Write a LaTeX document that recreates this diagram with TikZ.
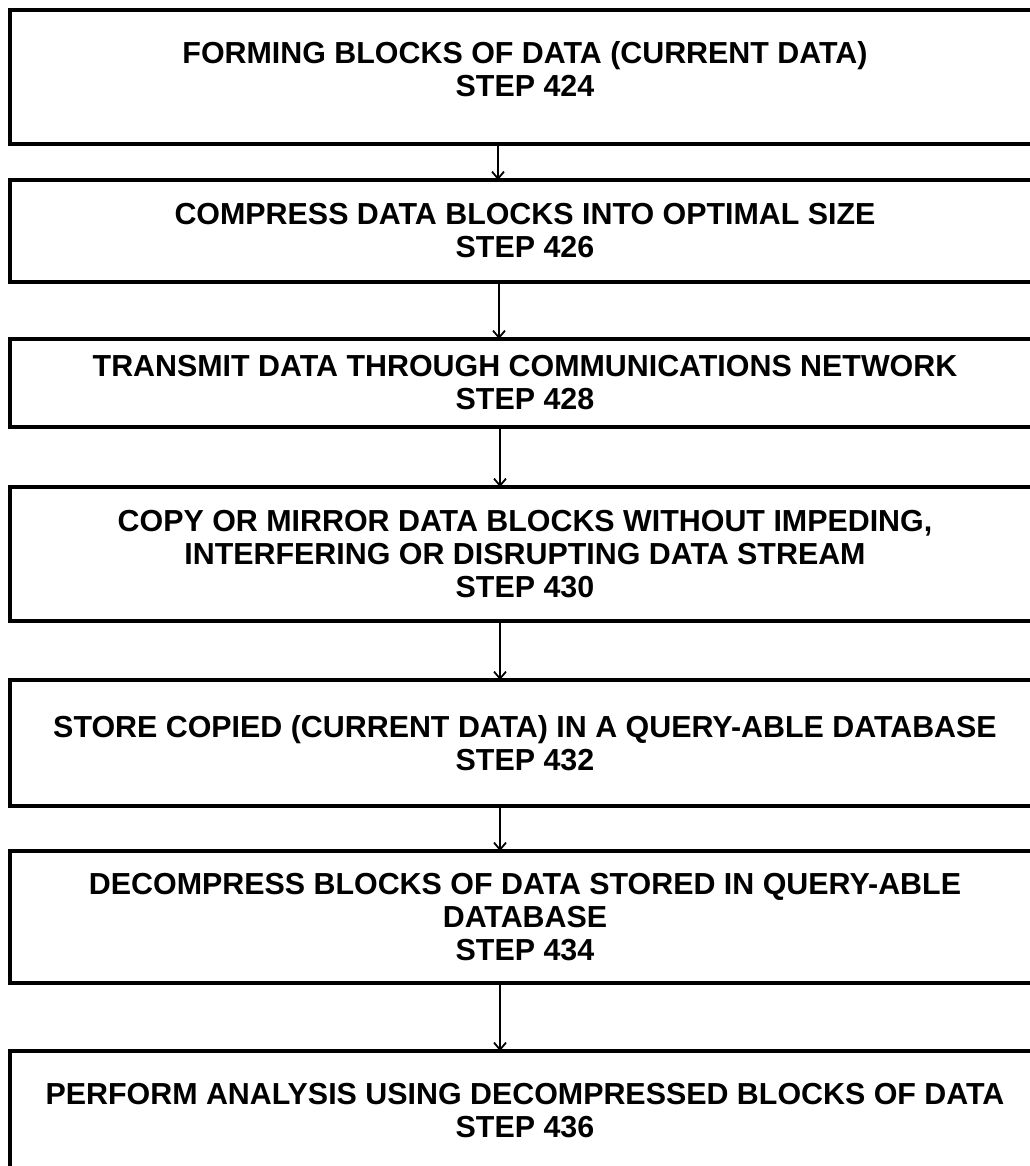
\documentclass[tikz,border=0pt]{standalone}
\usepackage{fontspec}
\setmainfont{Liberation Sans}
\usetikzlibrary{positioning,arrows.meta}

\begin{document}
\begin{tikzpicture}
[x=1pt, y=1pt, node distance = 57 pt,
stepbox/.style={draw, line width=3.5pt, outer sep=0pt, minimum width=1030pt, align=center, font=\fontsize{30.4}{33}\selectfont\bfseries},
flow/.style={line width=1.8pt, -{Straight Barb[length=7pt,width=12pt,line width=1.8pt]}}]
%[level distance=20pt]
\useasboundingbox (0,0) rectangle (1029,-1166);

\node (s424)[stepbox, minimum height=134pt, text depth=16pt] at (525,-77) {FORMING BLOCKS OF DATA (CURRENT DATA)\\STEP 424};
\node (s426)[stepbox, minimum height=102pt, below=36pt of s424] {COMPRESS DATA BLOCKS INTO OPTIMAL SIZE\\STEP 426};
\node (s428)[stepbox, minimum height=88pt, below=of s426] {TRANSMIT DATA THROUGH COMMUNICATIONS NETWORK\\STEP 428};
\node (s430)[stepbox, minimum height=134pt, below=60pt of s428] {COPY OR MIRROR DATA BLOCKS WITHOUT IMPEDING,\\INTERFERING OR DISRUPTING DATA STREAM\\STEP 430};
\node (s432)[stepbox, minimum height=126pt, below=59pt of s430] {STORE COPIED (CURRENT DATA) IN A QUERY-ABLE DATABASE\\STEP 432};
\node (s434)[stepbox, minimum height=132pt, below=45pt of s432] {DECOMPRESS BLOCKS OF DATA STORED IN QUERY-ABLE\\DATABASE\\STEP 434};
\node (s436)[stepbox, minimum height=120pt, below=68pt of s434] {PERFORM ANALYSIS USING DECOMPRESSED BLOCKS OF DATA\\STEP 436};

\draw[flow] ([xshift=-27pt]s424.south) -- ([xshift=-27pt]s426.north);
\draw[flow] ([xshift=-26pt]s426.south) -- ([xshift=-26pt]s428.north);
\draw[flow] ([xshift=-25pt]s428.south) -- ([xshift=-25pt]s430.north);
\draw[flow] ([xshift=-25pt]s430.south) -- ([xshift=-25pt]s432.north);
\draw[flow] ([xshift=-25pt]s432.south) -- ([xshift=-25pt]s434.north);
\draw[flow] ([xshift=-25pt]s434.south) -- ([xshift=-25pt]s436.north);
\end{tikzpicture}
\end{document}
